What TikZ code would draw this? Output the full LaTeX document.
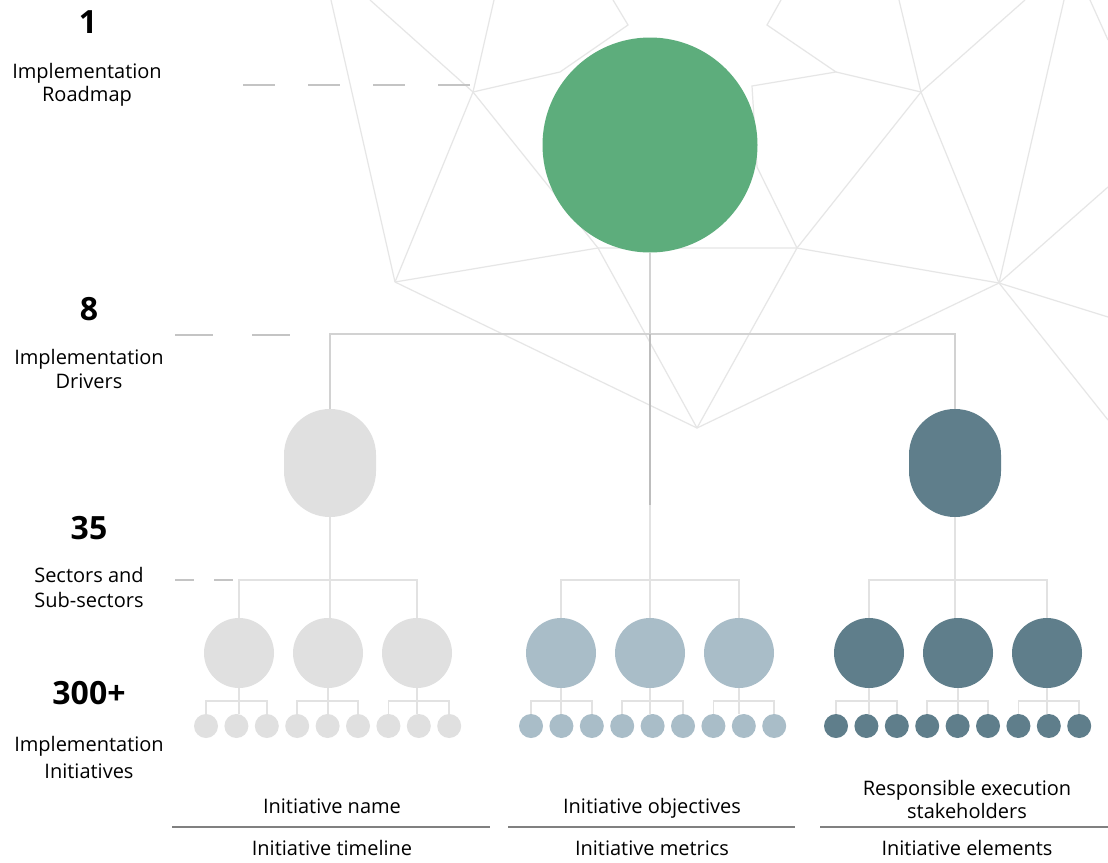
\documentclass[tikz,border=0pt]{standalone}
\usepackage{fontspec}
\setmainfont{Open Sans}
\usetikzlibrary{calc}
\definecolor{greenc}{HTML}{5DAD7C}
\definecolor{grayc}{HTML}{E0E0E0}
\definecolor{bluec}{HTML}{A9BDC8}
\definecolor{tealc}{HTML}{5F7E8B}
\definecolor{netc}{HTML}{E6E6E6}
\definecolor{connc}{HTML}{E2E2E2}
\definecolor{drvc}{HTML}{D2D2D2}
\definecolor{darkc}{HTML}{BDBDBD}
\definecolor{dashc}{HTML}{C4C4C4}
\definecolor{rulec}{HTML}{808080}
\tikzset{
  net/.style={draw=netc, line width=1.2pt},
  conn/.style={draw=connc, line width=1.5pt},
  drv/.style={draw=drvc, line width=1.4pt},
  darkline/.style={draw=darkc, line width=1.1pt},
  guide/.style={draw=dashc, line width=1.2pt},
  rule/.style={draw=rulec, line width=1.5pt},
  dot/.style={circle, inner sep=0pt, outer sep=0pt, draw=none},
  bigdot/.style={dot, minimum size=70pt},
  smalldot/.style={dot, minimum size=24pt},
  pill/.style={rectangle, rounded corners=45.9pt, minimum width=92pt, minimum height=108pt, inner sep=0pt, outer sep=0pt, draw=none},
  lbl/.style={font=\fontsize{20}{24}\selectfont, inner sep=0pt, anchor=base},
  num/.style={font=\fontsize{32}{38}\selectfont\bfseries, inner sep=0pt, anchor=base}
}
\begin{document}
\begin{tikzpicture}[x=1pt,y=-1pt]
\useasboundingbox (0,0) rectangle (1108,862);
\fill[white] (0,0) rectangle (1108,862);

% ---------- background network ----------
\coordinate (nA) at (395,282);
\coordinate (nB) at (473,92);
\coordinate (nC) at (598,248);
\coordinate (nD) at (560,72);
\coordinate (nE) at (628,25);
\coordinate (nF) at (697,428);
\coordinate (nG) at (797,248);
\coordinate (nH) at (757,167);
\coordinate (nI) at (752,86);
\coordinate (nJ) at (836,72);
\coordinate (nK) at (767,25);
\coordinate (nL) at (921,92);
\coordinate (nM) at (999,283);
\coordinate (t1) at (331,0);
\coordinate (t2) at (370,0);
\coordinate (t3) at (494,0);
\coordinate (t4) at (613,0);
\coordinate (t5) at (781,0);
\coordinate (t6) at (899,0);
\coordinate (t7) at (1025,0);
\coordinate (t8) at (1064,0);
\coordinate (t9) at (1090,0);
\coordinate (r1) at (1108,40);
\coordinate (r2) at (1108,187);
\coordinate (r3) at (1108,317);
\coordinate (r4) at (1108,420);

\draw[net] (t1) -- (nA);
\draw[net] (t2) -- (nB);
\draw[net] (t3) -- (nB) -- (nA);
\draw[net] (nB) -- (nD) -- (nE) -- (t4);
\draw[net] (nB) -- (nC);
\draw[net] (nA) -- (nC) -- (nF);
\draw[net] (nA) -- (nF);
\draw[net] (nC) -- (nG) -- (nF);
\draw[net] (nG) -- (nH) -- (nI) -- (nJ) -- (nK) -- (t5);
\draw[net] (nJ) -- (nL);
\draw[net] (nL) -- (t6);
\draw[net] (nL) -- (t7);
\draw[net] (nL) -- (nG);
\draw[net] (nL) -- (nM);
\draw[net] (nM) -- (t8);
\draw[net] (nM) -- (nG);
\draw[net] (nM) -- (nF);
\draw[net] (nM) -- (r2);
\draw[net] (nM) -- (r3);
\draw[net] (nM) -- (r4);
\draw[net] (t9) -- (r1);

% ---------- guide dashes ----------
\coordinate (g1s) at (243,85);  \coordinate (g1e) at (478,85);
\coordinate (g2s) at (175,335); \coordinate (g2e) at (292,335);
\coordinate (g3s) at (175,580); \coordinate (g3e) at (234,580);
\draw[guide, dash pattern=on 32pt off 33pt] (g1s) -- (g1e);
\draw[guide, dash pattern=on 38pt off 39pt] (g2s) -- (g2e);
\draw[guide, dash pattern=on 19pt off 20pt] (g3s) -- (g3e);

% ---------- nodes ----------
\node[dot, fill=greenc, minimum size=215pt] (root) at (650,145) {};
\node[pill, fill=grayc] (pillL) at (330,463) {};
\node[pill, fill=tealc] (pillR) at (955,463) {};

\node[bigdot, fill=grayc] (sL1) at (239,653) {};
\node[bigdot, fill=grayc] (sL2) at (328,653) {};
\node[bigdot, fill=grayc] (sL3) at (417,653) {};
\node[bigdot, fill=bluec] (sM1) at (561,653) {};
\node[bigdot, fill=bluec] (sM2) at (650,653) {};
\node[bigdot, fill=bluec] (sM3) at (739,653) {};
\node[bigdot, fill=tealc] (sR1) at (869,653) {};
\node[bigdot, fill=tealc] (sR2) at (958,653) {};
\node[bigdot, fill=tealc] (sR3) at (1047,653) {};

\foreach \i in {0,...,8} {
  \node[smalldot, fill=grayc] (iL\i) at ({206+30.4*\i},726) {};
  \node[smalldot, fill=bluec] (iM\i) at ({531+30.4*\i},726) {};
  \node[smalldot, fill=tealc] (iR\i) at ({836+30.4*\i},726) {};
}

% ---------- connectors ----------
\coordinate (dbus) at (650,334);
\coordinate (gmid) at (650,505);
\draw[drv] (root.south) -- (dbus);
\draw[drv] (pillL.north) |- (dbus) -| (pillR.north);
\draw[darkline] (dbus) -- (gmid);
\draw[conn] (gmid) -- (sM2.north);

% sector buses
\draw[conn] (pillL.south) -- (pillL.south |- sL2.north);
\draw[conn] (sL1.north) -- ++(0,-38) -| (sL3.north);
\draw[conn] (sM1.north) -- ++(0,-38) -| (sM3.north);
\draw[conn] (pillR.south) -- (pillR.south |- sR2.north);
\draw[conn] (sR1.north) -- ++(0,-38) -| (sR3.north);

% initiative buses
\foreach \c in {L,M,R} {
  \foreach \p/\a/\b/\d in {1/0/1/2, 2/3/4/5, 3/6/7/8} {
    \draw[conn] (s\c\p.south) -- (s\c\p.south |- i\c\b.north);
    \draw[conn] (i\c\a.north) -- ++(0,-13) -| (i\c\d.north);
  }
}

% ---------- left labels ----------
\node[num] (n1) at (88,33) {1};
\node[lbl] (l1a) at (87,78) {Implementation};
\node[lbl] (l1b) at (87,101) {Roadmap};
\node[num] (n8) at (89,320) {8};
\node[lbl] (l2a) at (89,364) {Implementation};
\node[lbl] (l2b) at (89,388) {Drivers};
\node[num] (n35) at (89,539) {35};
\node[lbl] (l3a) at (89,582) {Sectors and};
\node[lbl] (l3b) at (89,607) {Sub-sectors};
\node[num] (n300) at (89,704) {300+};
\node[lbl] (l4a) at (89,751) {Implementation};
\node[lbl] (l4b) at (89,778) {Initiatives};

% ---------- bottom labels ----------
\coordinate (ru1s) at (172,827); \coordinate (ru1e) at (490,827);
\coordinate (ru2s) at (508,827); \coordinate (ru2e) at (795,827);
\coordinate (ru3s) at (820,827); \coordinate (ru3e) at (1108,827);
\draw[rule] (ru1s) -- (ru1e);
\draw[rule] (ru2s) -- (ru2e);
\draw[rule] (ru3s) -- (ru3e);
\node[lbl] (b1a) at (332,813) {Initiative name};
\node[lbl] (b1b) at (332,855) {Initiative timeline};
\node[lbl] (b2a) at (652,813) {Initiative objectives};
\node[lbl] (b2b) at (652,855) {Initiative metrics};
\node[lbl] (b3a) at (967,795) {Responsible execution};
\node[lbl] (b3b) at (967,818) {stakeholders};
\node[lbl] (b3c) at (967,855) {Initiative elements};
\end{tikzpicture}
\end{document}
